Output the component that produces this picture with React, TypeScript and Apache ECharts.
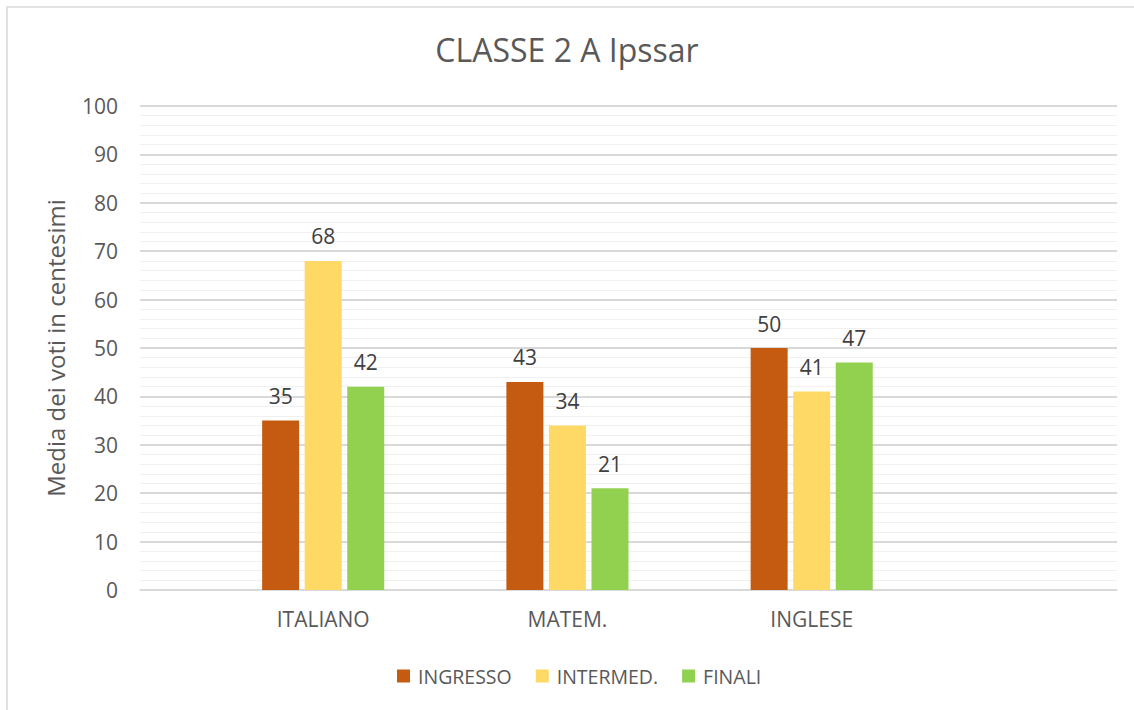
import React, { useEffect, useRef } from "react";
import * as echarts from "echarts";

const title = "CLASSE 2 A Ipssar";
const yAxisName = "Media dei voti in centesimi";
const subjects = ["ITALIANO", "MATEM.", "INGLESE"];
const seriesNames = ["INGRESSO", "INTERMED.", "FINALI"];
const ingresso = [35, 43, 50];
const intermed = [68, 34, 41];
const finali = [42, 21, 47];
const seriesColors = ["#C55A11", "#FFD966", "#92D050"];
const yTicks = [0, 10, 20, 30, 40, 50, 60, 70, 80, 90, 100];

const FONT = "'Open Sans', sans-serif";
const SLOTS = 8;

function padCats(): string[] {
  const out: string[] = [];
  for (let i = 0; i < SLOTS; i++) out.push("");
  subjects.forEach((s, i) => (out[2 * i + 1] = s));
  return out;
}
function padData(vals: number[]): (number | null)[] {
  const out: (number | null)[] = [];
  for (let i = 0; i < SLOTS; i++) out.push(null);
  vals.forEach((v, i) => (out[2 * i + 1] = v));
  return out;
}

export default function App() {
  const ref = useRef<HTMLDivElement>(null);
  useEffect(() => {
    if (!ref.current) return;
    const chart = echarts.init(ref.current, undefined, { renderer: "svg" });
    const allVals = [ingresso, intermed, finali];
    chart.setOption({
      animation: false,
      backgroundColor: "#ffffff",
      title: {
        text: title,
        left: "center",
        top: 28,
        textStyle: { fontFamily: FONT, fontSize: 32, fontWeight: "normal", color: "#595959" },
      },
      legend: {
        left: 392,
        top: 661,
        icon: "rect",
        itemWidth: 13,
        itemHeight: 13,
        itemGap: 24,
        textStyle: { fontFamily: FONT, fontSize: 19.5, color: "#595959", padding: [0, 0, 0, 3] },
        data: seriesNames,
      },
      grid: { left: 140, right: 17, top: 106, bottom: 120, containLabel: false },
      xAxis: {
        type: "category",
        data: padCats(),
        axisTick: { show: false },
        axisLine: { lineStyle: { color: "#d9d9d9", width: 1.5 } },
        axisLabel: { fontFamily: FONT, fontSize: 21, color: "#595959", margin: 18, interval: 0 },
        splitLine: { show: false },
      },
      yAxis: {
        type: "value",
        min: yTicks[0],
        max: yTicks[yTicks.length - 1],
        interval: yTicks[1] - yTicks[0],
        name: yAxisName,
        nameLocation: "middle",
        nameGap: 73,
        nameTextStyle: { fontFamily: FONT, fontSize: 24, color: "#595959" },
        axisLine: { show: false },
        axisTick: { show: false },
        axisLabel: { fontFamily: FONT, fontSize: 21, color: "#595959", margin: 22 },
        splitLine: { lineStyle: { color: "#d9d9d9", width: 2 } },
        minorTick: { show: false, splitNumber: 5 },
        minorSplitLine: { show: true, lineStyle: { color: "#f0f0f0", width: 1 } },
      },
      series: seriesNames.map((name, k) => ({
        name,
        type: "bar",
        data: padData(allVals[k]),
        barWidth: 37,
        barGap: "15%",
        itemStyle: { color: seriesColors[k] },
        label: {
          show: true,
          position: "top",
          distance: 14,
          fontFamily: FONT,
          fontSize: 21,
          color: "#404040",
        },
      })),
      graphic: [
        {
          type: "rect",
          shape: { x: 7, y: 7, width: 2000, height: 2000 },
          style: { fill: "none", stroke: "#d9d9d9", lineWidth: 1.5 },
          silent: true,
        },
      ],
    });
    return () => chart.dispose();
  }, []);
  return (
    <div
      ref={ref}
      style={{ position: "absolute", left: 0, top: 0, width: 1134, height: 710 }}
    />
  );
}
